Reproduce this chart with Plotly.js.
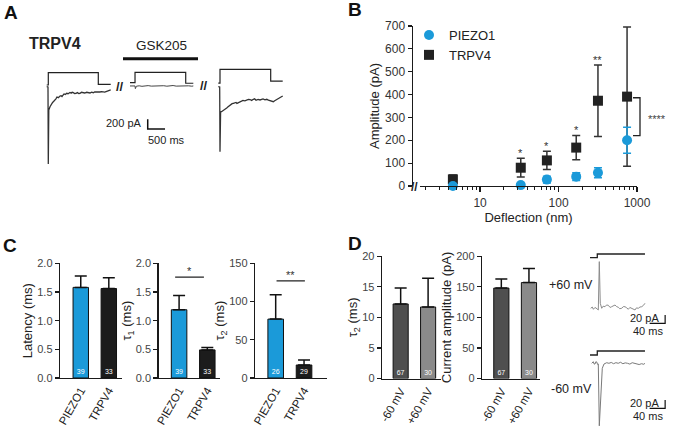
<!DOCTYPE html>
<html>
<head>
<meta charset="utf-8">
<script src="https://cdn.plot.ly/plotly-3.0.1.min.js"></script>
<style>
  html, body { margin: 0; padding: 0; background: #fff; }
  #fig { width: 676px; height: 429px; }
</style>
</head>
<body>
<div id="fig"></div>
<script>
// ---- panel A: example sweeps (time in ms from stimulus onset, current in pA)
var sw1T = [-46, -9, 0, 14, 49, 70, 92, 120, 145, 170, 194, 220, 251, 290, 338, 370, 396, 425, 454, 490, 532, 570, 600, 627, 660, 690, 723, 760, 801, 840, 880, 916, 960, 1003, 1050, 1110, 1150, 1205, 1250, 1300, 1340, 1379, 1430, 1494, 1540, 1581, 1630, 1688, 1720, 1754, 1803];
var sw1I = [0, -6, -1590, -480, -412, -380, -356, -330, -309, -295, -274, -250, -212, -225, -192, -185, -202, -170, -150, -160, -136, -145, -125, -119, -132, -115, -124, -140, -136, -122, -140, -136, -115, -119, -130, -115, -128, -130, -112, -124, -108, -109, -120, -109, -100, -105, -112, -95, -90, -78, -68];
var sw2T = [-145, -60, 0, 10, 40, 120, 200, 290, 380, 470, 560, 650, 740, 830, 920, 1010, 1100, 1190, 1280, 1370, 1460, 1550, 1640, 1685];
var sw2I = [15, 15, 15, -40, 10, 18, 8, 15, 22, 12, 16, 8, 14, 20, 10, 15, 24, 12, 16, 8, 14, 18, 10, 15];
var sw3T = [-49, -9, 0, 17, 43, 80, 116, 155, 194, 225, 260, 290, 318, 350, 386, 420, 464, 490, 520, 550, 578, 620, 665, 720, 772, 820, 867, 915, 963, 1000, 1041, 1100, 1156, 1200, 1243, 1300, 1350, 1400, 1445, 1490, 1541, 1580, 1618, 1650, 1685, 1730, 1763, 1812];
var sw3I = [0, -6, -1340, -521, -515, -500, -480, -455, -439, -420, -398, -380, -367, -350, -342, -330, -325, -345, -336, -320, -309, -295, -284, -290, -274, -260, -264, -282, -260, -250, -280, -262, -274, -255, -253, -270, -260, -278, -284, -296, -309, -290, -274, -255, -239, -225, -212, -192];
// stimulus (relative displacement)
var sw1StimT = [-46, 0, 0, 1445, 1445, 1803];
var sw1Stim = [-0.06, -0.06, 1, 1, 0, 0];
var sw2StimT = [-145, 0, 0, 1465, 1465, 1685];
var sw2Stim = [0.14, 0.14, 1.03, 1.03, 0.09, 0.09];
var sw3StimT = [-49, 0, 0, 1465, 1465, 1812];
var sw3Stim = [0.1, 0.1, 1.29, 1.29, 0.28, 0.28];
var scaleA = {ms: 500, pA: 200};

// ---- panel B: amplitude vs deflection
var deflection = [4.5, 33, 71, 168, 318, 747];
var piezoAmp = [0, 4, 28, 41, 58, 200];
var piezoErr = [2, 3, 15, 17, 22, 57];
var trpv4Amp = [29, 80, 112, 168, 373, 391];
var trpv4Err = [19, 41, 40, 53, 156, 305];
var sigB = ['', '*', '*', '*', '**', ''];

// ---- panel C: kinetics
var groupsC = ['PIEZO1', 'TRPV4'];
var latency = [1.58, 1.56];
var latencyErr = [0.20, 0.19];
var tau1 = [1.19, 0.49];
var tau1Err = [0.25, 0.04];
var tau2 = [77, 17];
var tau2Err = [32, 6.5];
var nLat = [39, 33];
var nTau1 = [39, 33];
var nTau2 = [26, 29];

// ---- panel D: voltage dependence
var groupsD = ['-60 mV', '+60 mV'];
var tau2D = [12.2, 11.7];
var tau2DErr = [2.6, 4.7];
var ampD = [148, 157];
var ampDErr = [15, 23];
var nD = [67, 30];
var pos60T = [-17, -13, -10, -6, -3.4, 0, 2.6, 5.2, 7.7, 11.4, 15, 19.9, 24, 28.4, 33, 37, 41, 45.7, 50, 54.2, 58, 63, 67, 71.5, 76, 80, 84, 88.8, 93, 97.3, 101, 105.8, 110, 114.6, 119, 123];
var pos60I = [0, 3, -2.4, 2, 0.7, -1, -4, 112, 12, 0, 5, 3.8, 8, 7.2, 2, 3.8, 6, 7.9, 4, 2.4, -1, 0, 4, 3.8, 1, -2.4, 2, 0, -3, -4, 1, 0, 3, 3.8, 7, 12];
var neg60T = [-14.4, -12, -10.3, -8, -5.9, -3.5, -1.5, 1, 2.6, 5.2, 7, 9.5, 12.9, 17.3, 24.3, 30, 36, 42, 48, 54, 60, 66, 72, 78, 84, 90, 96, 102, 108, 114, 120, 123];
var neg60I = [0, 4, 3.8, -2, -1.7, 4, 3.1, -3, -1.7, -150, -119, -47, -12, -1.7, 1.4, 0, 2, -1, 1.5, 0, 2.4, -1, 1, 0, -2, 1.4, 0, -1.5, -3, -1, -2.4, 0];
var stimDT = [-18.8, 0, 0, 123];
var stimD = [0, 0, 1, 1];
var scaleD = {ms: 40, pA: 20};

// ---- layout helpers (pixel -> paper)
var W = 676, H = 429;
var FONT = 'Arial, "Liberation Sans", sans-serif';
var BLUE = '#1b9ad9', BLK = '#1c1c1c';
function dx(a, b) { return [a / W, b / W]; }
function dy(top, bottom) { return [1 - bottom / H, 1 - top / H]; }
function px(x) { return x / W; }
function py(y) { return 1 - y / H; }

function line(x, y, xa, ya, color, width) {
  return {x: x, y: y, xaxis: xa, yaxis: ya, mode: 'lines', type: 'scatter',
    line: {color: color, width: width}, hoverinfo: 'skip', showlegend: false};
}
function shift(arr, d) { return arr.map(function (v) { return v + d; }); }

var traces = [];

// A: sweeps on a shared time axis
var offs = [0, 2506, 4962];
traces.push(line(shift(sw1StimT, offs[0]), sw1Stim, 'x', 'y2', '#222', 1.2));
traces.push(line(shift(sw2StimT, offs[1]), sw2Stim, 'x', 'y2', '#222', 1.2));
traces.push(line(shift(sw3StimT, offs[2]), sw3Stim, 'x', 'y2', '#222', 1.2));
traces.push(line(shift(sw1T, offs[0]), sw1I, 'x', 'y', '#333', 1.3));
traces.push(line(shift(sw2T, offs[1]), sw2I, 'x', 'y', '#444', 1));
traces.push(line(shift(sw3T, offs[2]), sw3I, 'x', 'y', '#333', 1.3));
var sbx = 2873, sby = -871;
traces.push(line([sbx, sbx, sbx + scaleA.ms], [sby + scaleA.pA, sby, sby], 'x', 'y', '#111', 1.5));

// B
traces.push({
  x: deflection, y: trpv4Amp, xaxis: 'x2', yaxis: 'y3', type: 'scatter', mode: 'markers',
  name: 'TRPV4', legendrank: 2, cliponaxis: false,
  marker: {symbol: 'square', size: 10, color: '#222'},
  error_y: {type: 'data', array: trpv4Err, color: '#333', thickness: 1.5, width: 4}
});
traces.push({
  x: deflection, y: piezoAmp, xaxis: 'x2', yaxis: 'y3', type: 'scatter', mode: 'markers',
  name: 'PIEZO1', legendrank: 1, cliponaxis: false,
  marker: {symbol: 'circle', size: 10, color: BLUE},
  error_y: {type: 'data', array: piezoErr, color: BLUE, thickness: 1.5, width: 4}
});

function bars(cats, vals, errs, ns, colors, xa, ya) {
  return {
    type: 'bar', x: cats, y: vals, width: 0.55, xaxis: xa, yaxis: ya,
    marker: {color: colors, line: {color: '#111', width: 1}},
    error_y: {type: 'data', array: errs, symmetric: false, arrayminus: [0, 0],
      color: '#111', thickness: 1.5, width: 6},
    text: ns.map(String), textposition: 'inside', insidetextanchor: 'start', textangle: 0,
    textfont: {size: 7, color: '#fff', family: FONT},
    showlegend: false, hoverinfo: 'skip', cliponaxis: false
  };
}
traces.push(bars(groupsC, latency, latencyErr, nLat, [BLUE, BLK], 'x3', 'y4'));
traces.push(bars(groupsC, tau1, tau1Err, nTau1, [BLUE, BLK], 'x4', 'y5'));
traces.push(bars(groupsC, tau2, tau2Err, nTau2, [BLUE, BLK], 'x5', 'y6'));
traces.push(bars(groupsD, tau2D, tau2DErr, nD, ['#4f4f4f', '#8a8a8a'], 'x6', 'y7'));
traces.push(bars(groupsD, ampD, ampDErr, nD, ['#4f4f4f', '#8a8a8a'], 'x7', 'y8'));

// D: example traces
traces.push(line(stimDT, stimD, 'x8', 'y10', '#222', 1.3));
traces.push(line(pos60T, pos60I, 'x8', 'y9', '#8c8c8c', 1));
traces.push(line(stimDT, stimD, 'x8', 'y12', '#222', 1.3));
traces.push(line(neg60T, neg60I, 'x8', 'y11', '#7a7a7a', 1));
var sdx = 175;
traces.push(line([sdx - scaleD.ms, sdx, sdx], [-36, -36, -36 + scaleD.pA], 'x8', 'y9', '#111', 1.2));
traces.push(line([sdx - scaleD.ms, sdx, sdx], [-108, -108, -108 + scaleD.pA], 'x8', 'y11', '#111', 1.2));

// ---- axes
var hidden = {visible: false, fixedrange: true};
function yAx(dom, range, anchor, title, dtick, fmt) {
  return {domain: dom, range: range, anchor: anchor, showline: true, linecolor: '#1a1a1a',
    linewidth: 1.3, ticks: 'outside', ticklen: 4, tickwidth: 1.2, tickcolor: '#1a1a1a',
    showgrid: false, zeroline: false, dtick: dtick, tickformat: fmt || '',
    tickfont: {size: 11, color: '#444'},
    title: {text: title, font: {size: 13, color: '#222'}, standoff: 1}};
}
function xCat(dom, range, anchor) {
  return {domain: dom, range: range, anchor: anchor, showline: true, linecolor: '#1a1a1a',
    linewidth: 1.3, ticks: '', showgrid: false, zeroline: false, tickangle: -60,
    tickfont: {size: 11.5, color: '#222'}};
}

var minorB = [2, 3, 4, 5, 6, 7, 8, 9, 20, 30, 40, 50, 60, 70, 80, 90, 200, 300, 400, 500, 600, 700, 800, 900];

var layout = {
  width: W, height: 429, margin: {l: 0, r: 0, t: 0, b: 0},
  paper_bgcolor: '#fff', plot_bgcolor: 'rgba(0,0,0,0)',
  font: {family: FONT, color: '#222'},
  showlegend: true,
  legend: {x: px(409), y: py(20), xanchor: 'left', yanchor: 'top', bgcolor: 'rgba(0,0,0,0)',
    font: {size: 13, color: '#222'}, tracegroupgap: 0},
  bargap: 0,
  // A
  xaxis: Object.assign({domain: dx(40, 290), range: [-240, 6985], anchor: 'y'}, hidden),
  yaxis: Object.assign({domain: dy(78, 170), range: [-1716, 179], anchor: 'x'}, hidden),
  yaxis2: Object.assign({domain: dy(64, 92), range: [-0.664, 1.75], anchor: 'x'}, hidden),
  // B
  xaxis2: {domain: dx(420, 637), type: 'log', range: [0.234, 3.0], anchor: 'y3',
    showline: true, linecolor: '#1a1a1a', linewidth: 1.3, ticks: 'outside', ticklen: 5,
    tickwidth: 1.2, tickcolor: '#1a1a1a', tickvals: [10, 100, 1000], ticktext: ['10', '100', '1000'],
    minor: {tickvals: minorB, ticks: 'outside', ticklen: 3, tickwidth: 1, tickcolor: '#1a1a1a', showgrid: false},
    showgrid: false, zeroline: false, tickfont: {size: 12, color: '#333'},
    title: {text: 'Deflection (nm)', font: {size: 13, color: '#222'}, standoff: 2}},
  yaxis3: Object.assign(yAx(dy(26, 186), [0, 700], 'x2', 'Amplitude (pA)', 100),
    {anchor: 'free', position: px(411.5), tickfont: {size: 12, color: '#333'}}),
  // C
  xaxis3: xCat(dx(60, 122), [-0.74, 1.47], 'y4'),
  yaxis4: yAx(dy(263.3, 378), [0, 2], 'x3', 'Latency (ms)', 0.5, '.1f'),
  xaxis4: xCat(dx(158.5, 220), [-0.73, 1.45], 'y5'),
  yaxis5: yAx(dy(263.3, 378), [0, 2], 'x4', '\u03c4<sub>1</sub> (ms)', 0.5, '.1f'),
  xaxis5: xCat(dx(255, 327), [-0.73, 1.81], 'y6'),
  yaxis6: yAx(dy(263.3, 378), [0, 150], 'x5', '\u03c4<sub>2</sub> (ms)', 50),
  // D bars
  xaxis6: xCat(dx(382, 441), [-0.68, 1.47], 'y7'),
  yaxis7: yAx(dy(256.3, 378.5), [0, 20], 'x6', '\u03c4<sub>2</sub> (ms)', 5),
  xaxis7: xCat(dx(482, 540), [-0.7, 1.4], 'y8'),
  yaxis8: yAx(dy(256.3, 378.5), [0, 200], 'x7', 'Current amplitude (pA)', 50),
  // D traces
  xaxis8: Object.assign({domain: dx(585, 676), range: [-31.7, 203], anchor: 'y9'}, hidden),
  yaxis9: Object.assign({domain: dy(248, 330), range: [-52.1, 144.7], anchor: 'x8'}, hidden),
  yaxis10: Object.assign({domain: dy(248, 264), range: [-1.7, 2.62], anchor: 'x8'}, hidden),
  yaxis11: Object.assign({domain: dy(340, 429), range: [-157.7, 55.9], anchor: 'x8'}, hidden),
  yaxis12: Object.assign({domain: dy(345, 361), range: [-1.5, 2.5], anchor: 'x8'}, hidden),
  shapes: [],
  annotations: []
};

function ann(text, x, y, opt) {
  var a = {text: text, x: px(x), y: py(y), xref: 'paper', yref: 'paper', showarrow: false,
    xanchor: 'center', yanchor: 'middle', font: {size: 12, color: '#222'}};
  return Object.assign(a, opt || {});
}
var A = layout.annotations, S = layout.shapes;

// panel letters
A.push(ann('<b>A</b>', 2, 13, {xanchor: 'left', font: {size: 19, color: '#111'}}));
A.push(ann('<b>B</b>', 346, 10, {xanchor: 'left', font: {size: 19, color: '#111'}}));
A.push(ann('<b>C</b>', 1, 245, {xanchor: 'left', font: {size: 19, color: '#111'}}));
A.push(ann('<b>D</b>', 346, 243, {xanchor: 'left', font: {size: 19, color: '#111'}}));

// A text
A.push(ann('<b>TRPV4</b>', 27, 44, {xanchor: 'left', font: {size: 16, color: '#222'}}));
A.push(ann('GSK205', 161, 45, {font: {size: 13.5, color: '#222'}}));
S.push({type: 'line', xref: 'paper', yref: 'paper', x0: px(123), x1: px(198), y0: py(58.7), y1: py(58.7),
  line: {color: '#111', width: 3}});
A.push(ann('<b>//</b>', 120, 86, {font: {size: 13, color: '#222'}}));
A.push(ann('<b>//</b>', 204, 85, {font: {size: 13, color: '#222'}}));
A.push(ann('200 pA', 144, 123.5, {xanchor: 'right', font: {size: 11, color: '#222'}}));
A.push(ann('500 ms', 146, 140, {xanchor: 'left', font: {size: 11, color: '#222'}}));

// B significance
for (var i = 0; i < sigB.length; i++) {
  if (!sigB[i]) continue;
  A.push({text: sigB[i], xref: 'x2', yref: 'y3', x: Math.log10(deflection[i]), y: trpv4Amp[i] + trpv4Err[i],
    showarrow: false, yanchor: 'bottom', yshift: -3, font: {size: 11, color: '#333'}});
}
var bracketB = [220, 386];
S.push({type: 'path', xref: 'paper', yref: 'y3',
  path: 'M ' + px(633) + ',' + bracketB[1] + ' L ' + px(640) + ',' + bracketB[1] + ' L ' + px(640) + ',' + bracketB[0] + ' L ' + px(633) + ',' + bracketB[0],
  line: {color: '#222', width: 1.3}});
A.push(ann('****', 646, 119, {xanchor: 'left', font: {size: 11, color: '#444'}}));
A.push(ann('<b>//</b>', 414, 187, {font: {size: 12, color: '#222'}}));

// C significance
S.push({type: 'line', xref: 'x4', yref: 'y5', x0: -0.14, x1: 0.88, y0: 1.76, y1: 1.76, line: {color: '#222', width: 1.3}});
A.push({text: '*', xref: 'x4', yref: 'y5', x: 0.37, y: 1.76, showarrow: false, yanchor: 'bottom', yshift: -2, font: {size: 11, color: '#333'}});
S.push({type: 'line', xref: 'x5', yref: 'y6', x0: 0.03, x1: 1.03, y0: 127, y1: 127, line: {color: '#222', width: 1.3}});
A.push({text: '**', xref: 'x5', yref: 'y6', x: 0.53, y: 127, showarrow: false, yanchor: 'bottom', yshift: -2, font: {size: 11, color: '#333'}});

// D trace labels
A.push(ann('+60 mV', 571, 285, {font: {size: 12.5, color: '#222'}}));
A.push(ann('-60 mV', 571, 389, {font: {size: 12.5, color: '#222'}}));
A.push(ann('20 pA', 661, 318, {xanchor: 'right', font: {size: 11, color: '#222'}}));
A.push(ann('40 ms', 665, 331, {xanchor: 'right', font: {size: 11, color: '#222'}}));
A.push(ann('20 pA', 661, 403, {xanchor: 'right', font: {size: 11, color: '#222'}}));
A.push(ann('40 ms', 665, 416, {xanchor: 'right', font: {size: 11, color: '#222'}}));

Plotly.newPlot('fig', traces, layout, {staticPlot: true, displayModeBar: false});
</script>
</body>
</html>
